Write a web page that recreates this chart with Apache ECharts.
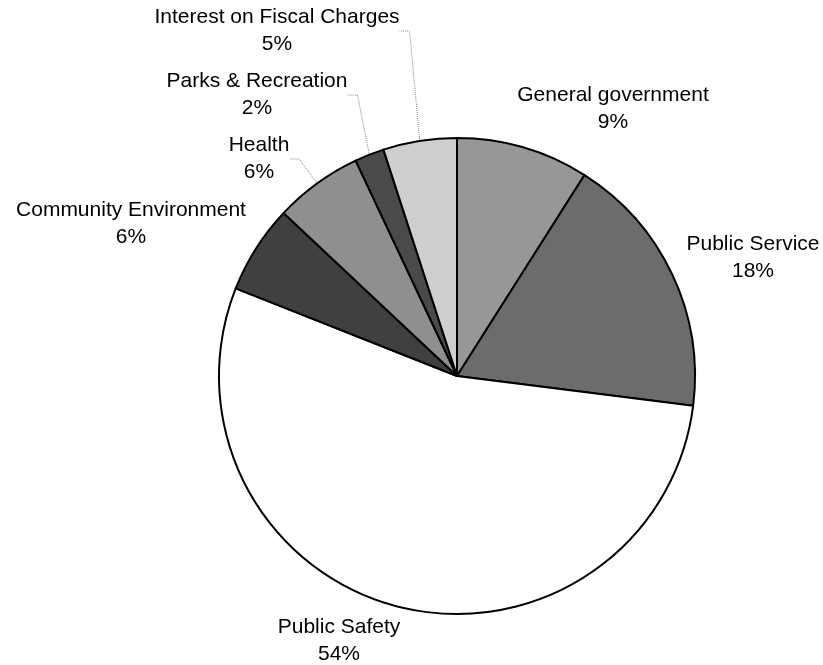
<!DOCTYPE html>
<html>
<head>
<meta charset="utf-8">
<script src="https://cdn.jsdelivr.net/npm/echarts@6/dist/echarts.min.js"></script>
<style>html,body{margin:0;padding:0;background:#fff}#c{width:823px;height:665px}</style>
</head>
<body>
<div id="c"></div>
<script>
const categories = ['General government','Public Service','Public Safety','Community Environment','Health','Parks & Recreation','Interest on Fiscal Charges'];
const values = [9, 18, 54, 6, 6, 2, 5];
const colors = ['#979797','#6c6c6c','#ffffff','#404040','#8f8f8f','#4a4a4a','#cfcfcf'];
// label block centres (text placement only)
const labelPos = [[613,109],[753,258],[339,641],[131,224],[259,159],[257,95],[277,31]];
const showLine = [false,false,false,false,true,true,true];

const chart = echarts.init(document.getElementById('c'), null, {renderer:'canvas'});
chart.setOption({
  animation:false,
  backgroundColor:'#fff',
  series:[{
    type:'pie',
    center:[457,376],
    radius:238,
    startAngle:90,
    clockwise:true,
    avoidLabelOverlap:false,
    itemStyle:{borderColor:'#000',borderWidth:2},
    label:{
      show:true,
      position:'outside',
      formatter: p => p.name + '\n' + p.value + '%',
      fontFamily:'Liberation Sans, Arial, sans-serif',
      fontSize:21,
      lineHeight:27,
      color:'#000',
      align:'center'
    },
    labelLine:{show:true,length:10,length2:10,lineStyle:{color:'#888',width:1,type:'dotted'}},
    labelLayout: function(params){
      const i = params.dataIndex;
      return {x: labelPos[i][0], y: labelPos[i][1], align:'center', verticalAlign:'middle'};
    },
    data: categories.map((c,i)=>({
      name:c, value:values[i],
      itemStyle:{color:colors[i]},
      labelLine:{show:showLine[i]}
    }))
  }]
});
</script>
</body>
</html>
